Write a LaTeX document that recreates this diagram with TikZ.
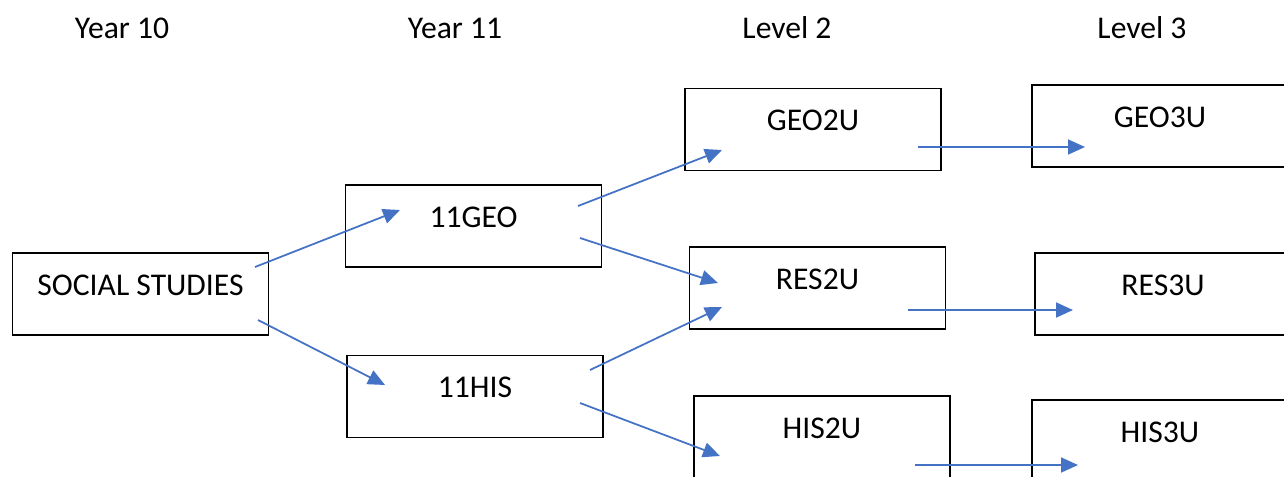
\documentclass[tikz,border=0pt]{standalone}
\usepackage{fontspec}
\setmainfont{Carlito}
\usetikzlibrary{arrows.meta}
\definecolor{arrowblue}{HTML}{4472C4}
\begin{document}
\begin{tikzpicture}[
    box/.style={draw=black,line width=1.1pt,minimum width=5.12cm,inner ysep=0pt,
      text height=0.84cm,text depth=0.8cm,font=\fontsize{18}{21}\selectfont},
    head/.style={font=\fontsize{18}{21}\selectfont},
    link/.style={draw=arrowblue,line width=1pt,-{Triangle[length=0.34cm,width=0.3cm]}}]
            \useasboundingbox (0,0) rectangle (25.68,-9.52);
            \node[head] (y10) at (2.44,-0.56) {Year 10};
            \node[head] (y11) at (9.10,-0.56) {Year 11};
            \node[head] (lv2) at (15.74,-0.56) {Level 2};
            \node[head] (lv3) at (22.84,-0.56) {Level 3};
            \node[box] (ss) at (2.81,-5.88) {SOCIAL STUDIES};
            \node[box] (geo11) at (9.47,-4.52) {11GEO};
            \node[box] (his11) at (9.50,-7.93) {11HIS};
            \node[box] (geo2) at (16.26,-2.59) {GEO2U};
            \node[box] (res2) at (16.35,-5.76) {RES2U};
            \node[box] (his2) at (16.44,-8.74) {HIS2U};
            \node[box] (geo3) at (23.20,-2.52) {GEO3U};
            \node[box] (res3) at (23.26,-5.88) {RES3U};
            \node[box] (his3) at (23.20,-8.82) {HIS3U};
            \draw[link] ([shift={(2.29,0.54)}]ss.center) -- ([shift={(-1.47,0.32)}]geo11.center);
            \draw[link] ([shift={(2.35,-0.52)}]ss.center) -- ([shift={(-1.80,0.23)}]his11.center);
            \draw[link] ([shift={(2.09,0.40)}]geo11.center) -- ([shift={(-1.82,-0.41)}]geo2.center);
            \draw[link] ([shift={(2.13,-0.24)}]geo11.center) -- ([shift={(-1.99,0.10)}]res2.center);
            \draw[link] ([shift={(2.30,0.53)}]his11.center) -- ([shift={(-1.91,-0.38)}]res2.center);
            \draw[link] ([shift={(2.10,-0.13)}]his11.center) -- ([shift={(-2.04,-0.38)}]his2.center);
            \draw[link] ([shift={(2.10,-0.35)}]geo2.center) -- ([shift={(-1.50,-0.42)}]geo3.center);
            \draw[link] ([shift={(1.81,-0.44)}]res2.center) -- ([shift={(-1.80,-0.32)}]res3.center);
            \draw[link] ([shift={(1.86,-0.56)}]his2.center) -- ([shift={(-1.64,-0.48)}]his3.center);
\end{tikzpicture}
\end{document}
